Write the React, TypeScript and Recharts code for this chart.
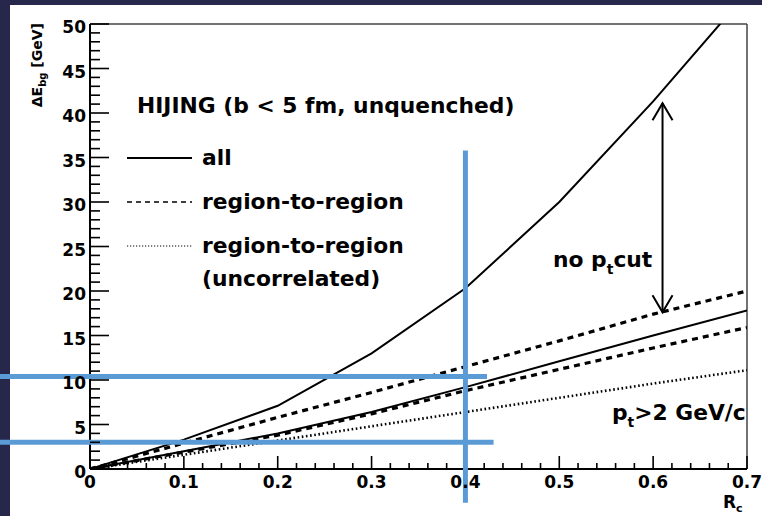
import React from "react";
import {
  LineChart,
  Line,
  XAxis,
  YAxis,
  ReferenceLine,
  Customized,
} from "recharts";

const FONT = "'DejaVu Sans', 'Liberation Sans', sans-serif";
const BLUE = "#5b9bd5";

// cone radius R_c
const rc = [0, 0.1, 0.2, 0.3, 0.4, 0.5, 0.6, 0.7];
// background energy, no pt cut
const allNoCut = [0, 3.3, 7.1, 13.0, 20.3, 30.0, 41.3, 53.5];
const r2rNoCut = [0, 2.9, 5.8, 8.6, 11.5, 14.4, 17.4, 20.0];
// background energy, pt > 2 GeV/c
const allPt2 = [0, 2.0, 4.0, 6.4, 9.2, 12.1, 15.0, 17.8];
const r2rPt2 = [0, 1.9, 3.8, 6.2, 8.8, 11.2, 13.6, 15.9];
const uncorrPt2 = [0, 1.6, 3.2, 4.8, 6.4, 8.0, 9.6, 11.1];

const xMajor = [0, 0.1, 0.2, 0.3, 0.4, 0.5, 0.6, 0.7];
const yMajor = [0, 5, 10, 15, 20, 25, 30, 35, 40, 45, 50];
const xTicks = Array.from({ length: 36 }, (_, i) => Math.round(i * 2) / 100);
const yTicks = Array.from({ length: 51 }, (_, i) => i);

const X_DOMAIN: [number, number] = [0, 0.7];
const Y_DOMAIN: [number, number] = [0, 50];

// chart box and the plot area it leaves inside the axes
const WIDTH = 762;
const HEIGHT = 516;
const MARGIN = { top: 24, right: 15, bottom: 0, left: 0 };
const Y_AXIS_W = 90;
const X_AXIS_H = 47;
const PLOT = {
  left: MARGIN.left + Y_AXIS_W,
  right: WIDTH - MARGIN.right,
  top: MARGIN.top,
  bottom: HEIGHT - MARGIN.bottom - X_AXIS_H,
};
const px = (v: number) =>
  PLOT.left + ((v - X_DOMAIN[0]) / (X_DOMAIN[1] - X_DOMAIN[0])) * (PLOT.right - PLOT.left);
const py = (v: number) =>
  PLOT.bottom - ((v - Y_DOMAIN[0]) / (Y_DOMAIN[1] - Y_DOMAIN[0])) * (PLOT.bottom - PLOT.top);

const legendItems = [
  { label: "all", dash: undefined, width: 2 },
  { label: "region-to-region", dash: "5 4", width: 1.6 },
  { label: "region-to-region", dash: "1.2 1.8", width: 1.2 },
];

const data = rc.map((r, i) => ({
  r,
  allNoCut: allNoCut[i],
  r2rNoCut: r2rNoCut[i],
  allPt2: allPt2[i],
  r2rPt2: r2rPt2[i],
  uncorrPt2: uncorrPt2[i],
}));

const isMajor = (v: number, list: number[]) =>
  list.some((m) => Math.abs(m - v) < 1e-6);

const XTick = (props: any) => {
  const { x, y, payload } = props;
  const v = payload.value as number;
  if (!isMajor(v, xMajor)) return <g />;
  return (
    <text
      x={x}
      y={y + 19}
      textAnchor="middle"
      fontFamily={FONT}
      fontWeight="bold"
      fontSize={17}
      fill="#000"
    >
      {v === 0 ? "0" : v.toFixed(1)}
    </text>
  );
};

const YTick = (props: any) => {
  const { x, y, payload } = props;
  const v = payload.value as number;
  if (!isMajor(v, yMajor)) return <g />;
  return (
    <text
      x={x - 4}
      y={y + 9}
      textAnchor="end"
      fontFamily={FONT}
      fontWeight="bold"
      fontSize={17}
      fill="#000"
    >
      {v}
    </text>
  );
};

// ROOT-style tick marks pointing into the frame, kept on their own layer
const InnerTicks = () => (
  <svg
    width={WIDTH}
    height={HEIGHT}
    style={{ position: "absolute", left: 0, top: 0, pointerEvents: "none" }}
  >
    <g stroke="#000" strokeWidth={1.6}>
      {xTicks
        .filter((v) => Math.abs(v - 0.4) > 1e-6)
        .map((v) => (
          <line
            key={`x${v}`}
            x1={px(v)}
            x2={px(v)}
            y1={PLOT.bottom}
            y2={PLOT.bottom - (isMajor(v, xMajor) ? 13 : 6)}
          />
        ))}
      {yTicks.map((v) => (
        <line
          key={`y${v}`}
          x1={PLOT.left}
          x2={PLOT.left + (isMajor(v, yMajor) ? 19 : 10)}
          y1={py(v)}
          y2={py(v)}
        />
      ))}
    </g>
  </svg>
);

// double-headed arrow between the two "no pt cut" curves
const DoubleArrow = (props: any) => {
  const { x1, y1, x2, y2 } = props;
  const top = Math.min(y1, y2);
  const bottom = Math.max(y1, y2);
  const hw = 10;
  const hl = 17;
  return (
    <g stroke="#000" strokeWidth={2} fill="none">
      <line x1={x1} x2={x2} y1={top} y2={bottom} />
      <polyline points={`${x1 - hw},${top + hl} ${x1},${top} ${x1 + hw},${top + hl}`} />
      <polyline points={`${x1 - hw},${bottom - hl} ${x1},${bottom} ${x1 + hw},${bottom - hl}`} />
    </g>
  );
};

const Annotations = () => (
  <g fontFamily={FONT} fontWeight="bold" fill="#000">
    <text x={137} y={113} fontSize={21.8}>
      HIJING (b &lt; 5 fm, unquenched)
    </text>
    {legendItems.map((item, i) => (
      <g key={i}>
        <line
          x1={127}
          x2={192}
          y1={158 + i * 44}
          y2={158 + i * 44}
          stroke="#000"
          strokeWidth={item.width}
          strokeDasharray={item.dash}
        />
        <text x={202} y={165 + i * 44} fontSize={21.8}>
          {item.label}
        </text>
      </g>
    ))}
    <text x={202} y={286} fontSize={21.8}>
      (uncorrelated)
    </text>
    <text x={553} y={267} fontSize={21.8}>
      no p
      <tspan fontSize={14} dy={7}>t</tspan>
      <tspan dy={-7}>cut</tspan>
    </text>
    <text x={612} y={420} fontSize={21.8}>
      p
      <tspan fontSize={14} dy={7}>t</tspan>
      <tspan dy={-7}>&gt;2 GeV/c</tspan>
    </text>
    <text x={723} y={508} fontSize={17}>
      R
      <tspan fontSize={11} dy={4}>c</tspan>
    </text>
    <text transform="translate(42,23) rotate(-90)" textAnchor="end" fontSize={14}>
      ΔE
      <tspan fontSize={10} dy={4}>bg</tspan>
      <tspan dy={-4}> [GeV]</tspan>
    </text>
  </g>
);

export default function App() {
  return (
    <div
      style={{
        position: "absolute",
        left: 0,
        top: 0,
        width: WIDTH,
        height: HEIGHT,
        background: "#26274a",
        overflow: "hidden",
      }}
    >
      <div
        style={{
          position: "absolute",
          left: 10,
          top: 5,
          right: 0,
          bottom: 0,
          background: "#ffffff",
        }}
      />
      <div style={{ position: "absolute", left: 0, top: 0 }}>
        <LineChart width={WIDTH} height={HEIGHT} data={data} margin={MARGIN}>
          <XAxis
            dataKey="r"
            type="number"
            domain={X_DOMAIN}
            ticks={xTicks}
            interval={0}
            height={X_AXIS_H}
            tickSize={0}
            tickMargin={0}
            tick={<XTick />}
            tickLine={false}
            axisLine={{ stroke: "#000", strokeWidth: 2 }}
            allowDataOverflow
          />
          <YAxis
            type="number"
            domain={Y_DOMAIN}
            ticks={yTicks}
            interval={0}
            width={Y_AXIS_W}
            tickSize={0}
            tickMargin={0}
            tick={<YTick />}
            tickLine={false}
            axisLine={{ stroke: "#000", strokeWidth: 2 }}
            allowDataOverflow
          />
          {/* frame: top and right edges */}
          <ReferenceLine
            segment={[
              { x: 0, y: 50 },
              { x: 0.7, y: 50 },
            ]}
            stroke="#444"
            strokeWidth={1.5}
            ifOverflow="visible"
          />
          <ReferenceLine
            segment={[
              { x: 0.7, y: 0 },
              { x: 0.7, y: 50 },
            ]}
            stroke="#444"
            strokeWidth={1.5}
            ifOverflow="visible"
          />
          <Line
            dataKey="allNoCut"
            stroke="#000"
            strokeWidth={2}
            dot={false}
            isAnimationActive={false}
          />
          <Line
            dataKey="r2rNoCut"
            stroke="#000"
            strokeWidth={3.2}
            strokeDasharray="6 5"
            dot={false}
            isAnimationActive={false}
          />
          <Line
            dataKey="allPt2"
            stroke="#000"
            strokeWidth={2}
            dot={false}
            isAnimationActive={false}
          />
          <Line
            dataKey="r2rPt2"
            stroke="#000"
            strokeWidth={3.2}
            strokeDasharray="6 5"
            dot={false}
            isAnimationActive={false}
          />
          <Line
            dataKey="uncorrPt2"
            stroke="#000"
            strokeWidth={2.6}
            strokeDasharray="1.6 2.6"
            dot={false}
            isAnimationActive={false}
          />
          <ReferenceLine
            segment={[
              { x: 0.61, y: 41.1 },
              { x: 0.61, y: 17.6 },
            ]}
            ifOverflow="visible"
            shape={(p: any) => <DoubleArrow {...p} />}
          />
          <Customized component={Annotations} />
          <ReferenceLine
            segment={[
              { x: -0.096, y: 10.4 },
              { x: 0.423, y: 10.4 },
            ]}
            stroke={BLUE}
            strokeWidth={5}
            ifOverflow="visible"
            zIndex={1500}
          />
          <ReferenceLine
            segment={[
              { x: -0.096, y: 3.0 },
              { x: 0.43, y: 3.0 },
            ]}
            stroke={BLUE}
            strokeWidth={5}
            ifOverflow="visible"
            zIndex={1500}
          />
          <ReferenceLine
            segment={[
              { x: 0.4, y: 35.8 },
              { x: 0.4, y: -3.8 },
            ]}
            stroke={BLUE}
            strokeWidth={5}
            ifOverflow="visible"
            zIndex={1500}
          />
        </LineChart>
      </div>
      <InnerTicks />
    </div>
  );
}
